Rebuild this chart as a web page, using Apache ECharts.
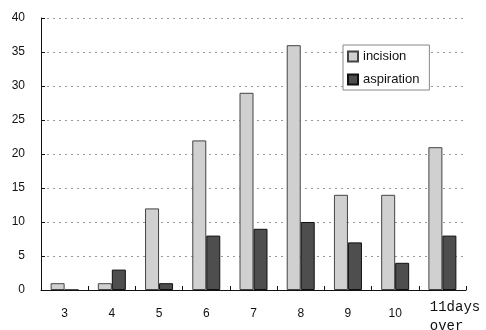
<!DOCTYPE html>
<html><head><meta charset="utf-8">
<script src="https://cdn.jsdelivr.net/npm/echarts@6/dist/echarts.min.js"></script>
<style>html,body{margin:0;padding:0;background:#fff}#c{width:486px;height:330px}</style>
</head><body><div id="c"></div>
<script>
var categories = ['3','4','5','6','7','8','9','10','11days over'];
var incision = [1,1,12,22,29,36,14,14,21];
var aspiration = [0,3,1,8,9,10,7,4,8];
var yTicks = [0,5,10,15,20,25,30,35,40];

var catData = categories.map(function(c, i){
  if (i === categories.length - 1) {
    return {value: c, textStyle: {verticalAlign: 'middle'}};
  }
  return c;
});

var chart = echarts.init(document.getElementById('c'));
chart.setOption({
  animation: false,
  grid: {left: 41, right: 20, top: 18, bottom: 40, outerBoundsMode: 'none', containLabel: false},
  legend: {
    orient: 'vertical', left: 343, top: 45,
    data: ['incision','aspiration'],
    icon: 'rect',
    itemWidth: 10, itemHeight: 10, itemGap: 10,
    borderColor: '#888', borderWidth: 1, borderRadius: 0,
    padding: [5, 10, 4, 4],
    backgroundColor: '#fff',
    textStyle: {fontFamily: 'Liberation Sans, Arial, sans-serif', fontSize: 13, color: '#111'}
  },
  xAxis: {
    type: 'category', data: catData,
    axisLine: {lineStyle: {color: '#111', width: 1}},
    axisTick: {show: true, inside: true, length: 4, lineStyle: {color: '#111'}},
    axisLabel: {
      interval: 0,
      color: '#111', fontFamily: 'Liberation Sans, Arial, sans-serif', fontSize: 12, margin: 18,
      formatter: function(v){ return v === '11days over' ? '{s| }\n{m|   11days}\n{m|   over  }' : v; },
      rich: {
        s: {fontSize: 14, lineHeight: 18, fontFamily: 'Liberation Mono, monospace'},
        m: {fontSize: 14, lineHeight: 19, fontFamily: 'Liberation Mono, DejaVu Sans Mono, monospace', color: '#111'}
      }
    }
  },
  yAxis: {
    type: 'value', min: yTicks[0], max: yTicks[yTicks.length-1], interval: 5,
    axisLine: {show: true, lineStyle: {color: '#111', width: 1}},
    axisTick: {show: true, inside: true, length: 4, lineStyle: {color: '#111'}},
    axisLabel: {color: '#111', fontFamily: 'Liberation Sans, Arial, sans-serif', fontSize: 12, margin: 16},
    splitLine: {show: true, lineStyle: {color: '#999', type: [2, 4], width: 1}}
  },
  series: [
    {name: 'incision', type: 'bar', data: incision, barWidth: 14, barGap: '0%',
     itemStyle: {color: '#d0d0d0', borderColor: '#444', borderWidth: 1}},
    {name: 'aspiration', type: 'bar', data: aspiration, barWidth: 14, barGap: '0%',
     itemStyle: {color: '#4e4e4e', borderColor: '#111', borderWidth: 1}}
  ]
});
</script></body></html>
